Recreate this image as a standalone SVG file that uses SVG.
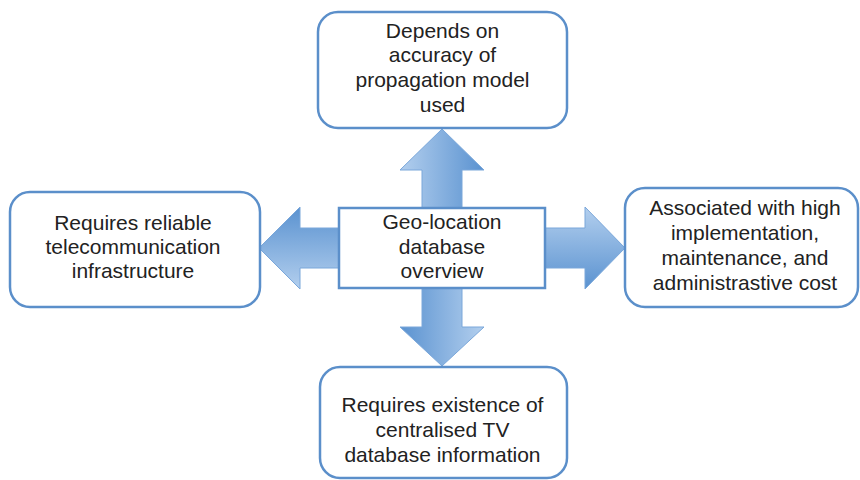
<svg xmlns="http://www.w3.org/2000/svg" width="860" height="480" viewBox="0 0 860 480">
  <defs>
    <linearGradient id="gUp" x1="0" y1="0" x2="1" y2="0">
      <stop offset="0" stop-color="#b3cfee"/>
      <stop offset="1" stop-color="#5a92d0"/>
    </linearGradient>
    <linearGradient id="gDown" x1="0" y1="0" x2="1" y2="0">
      <stop offset="0" stop-color="#5a92d0"/>
      <stop offset="1" stop-color="#b3cfee"/>
    </linearGradient>
    <linearGradient id="gRight" x1="0" y1="0" x2="0" y2="1">
      <stop offset="0" stop-color="#b3cfee"/>
      <stop offset="1" stop-color="#5a92d0"/>
    </linearGradient>
    <linearGradient id="gLeft" x1="0" y1="0" x2="0" y2="1">
      <stop offset="0" stop-color="#5a92d0"/>
      <stop offset="1" stop-color="#b3cfee"/>
    </linearGradient>
  </defs>
  <style>
    .box { fill: #ffffff; stroke: #5b8fca; stroke-width: 2.5; }
    .arrow { stroke: #7aa7da; stroke-width: 1; stroke-linejoin: miter; }
    .t { font-family: "Liberation Sans", Arial, Helvetica, sans-serif; font-size: 21px; fill: #222222; text-anchor: middle; }
  </style>
  <rect width="860" height="480" fill="#ffffff"/>

  <g id="connectors">
    <polygon class="arrow" fill="url(#gUp)" points="442,129 484,170 462,170 462,208 422,208 422,170 400,170"/>
    <polygon class="arrow" fill="url(#gDown)" points="422,288 462,288 462,327 484,327 442,366 400,327 422,327"/>
    <polygon class="arrow" fill="url(#gLeft)" points="259,248 300,207 300,228 340,228 340,268 300,268 300,289"/>
    <polygon class="arrow" fill="url(#gRight)" points="545,228 585,228 585,207 625,248 585,289 585,268 545,268"/>
  </g>

  <g id="center">
    <rect class="box" x="339" y="208" width="206" height="80"/>
    <text class="t" x="442" y="229">Geo-location</text>
    <text class="t" x="442" y="254">database</text>
    <text class="t" x="442" y="278">overview</text>
  </g>

  <g id="top">
    <rect class="box" x="318" y="12" width="249" height="116" rx="20" ry="20"/>
    <text class="t" x="442.5" y="38">Depends on</text>
    <text class="t" x="442.5" y="62">accuracy of</text>
    <text class="t" x="442.5" y="87">propagation model</text>
    <text class="t" x="442.5" y="112">used</text>
  </g>

  <g id="left">
    <rect class="box" x="10" y="192" width="250" height="115" rx="20" ry="20"/>
    <text class="t" x="133" y="230">Requires reliable</text>
    <text class="t" x="133" y="254">telecommunication</text>
    <text class="t" x="133" y="278">infrastructure</text>
  </g>

  <g id="right">
    <rect class="box" x="625" y="188" width="233" height="119" rx="20" ry="20"/>
    <text class="t" x="745" y="215">Associated with high</text>
    <text class="t" x="745" y="240">implementation,</text>
    <text class="t" x="745" y="265">maintenance, and</text>
    <text class="t" x="745" y="290">administrastive cost</text>
  </g>

  <g id="bottom">
    <rect class="box" x="320" y="367" width="247" height="111" rx="20" ry="20"/>
    <text class="t" x="442.5" y="412">Requires existence of</text>
    <text class="t" x="442.5" y="437">centralised TV</text>
    <text class="t" x="442.5" y="462">database information</text>
  </g>
</svg>
